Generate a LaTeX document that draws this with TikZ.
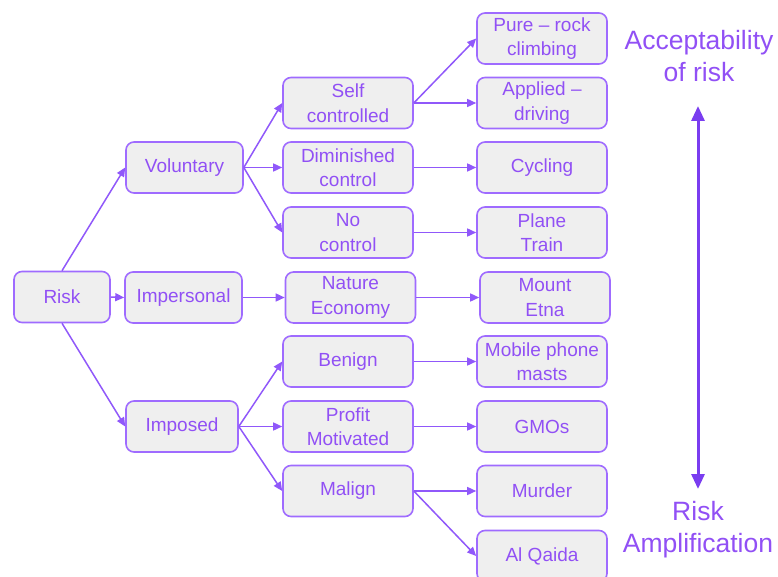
\documentclass[tikz,border=0pt]{standalone}
\usepackage{fontspec}
\setmainfont{Liberation Sans}
\usetikzlibrary{arrows.meta}
\definecolor{bordc}{HTML}{9F6BFF}
\definecolor{txtc}{HTML}{9150F5}
\definecolor{linec}{HTML}{9058FA}
\definecolor{boxfill}{HTML}{EFEFEF}
\definecolor{bigc}{HTML}{7A3DF0}
\begin{document}
\begin{tikzpicture}[x=1pt,y=-1pt,
  box/.style={draw=bordc,fill=boxfill,line width=1.6pt,rounded corners=8pt,
    minimum width=#1,minimum height=51pt,inner sep=0pt,align=center,
    text=txtc,font=\fontsize{19}{24.5}\selectfont},
  box/.default=130pt,
  conn/.style={draw=linec,line width=1.5pt,-{Triangle[length=9pt,width=8pt]}},
  lbl/.style={text=txtc,align=center,font=\fontsize{26.5}{32}\selectfont}]
\useasboundingbox (0,0) rectangle (778,577);
% column 1
\node[box=96pt] (risk) at (62,297) {Risk};
% column 2
\node[box=117pt] (vol) at (184.5,167.5) {Voluntary};
\node[box=117pt] (imp) at (183.5,297.5) {Impersonal};
\node[box=112pt] (ims) at (182,426.5) {Imposed};
% column 3
\node[box] (self) at (348,103) {Self\\controlled};
\node[box] (dim) at (348,167.5) {Diminished\\control};
\node[box] (noc) at (348,232.5) {No\\control};
\node[box] (nat) at (350.5,297.5) {Nature\\Economy};
\node[box] (ben) at (348,361.5) {Benign};
\node[box] (pro) at (348,426.5) {Profit\\Motivated};
\node[box] (mal) at (348,491) {Malign};
% column 4
\node[box] (pure) at (542,38.5) {Pure -- rock\\climbing};
\node[box] (app) at (542,103) {Applied --\\driving};
\node[box] (cyc) at (542,167.5) {Cycling};
\node[box] (pla) at (542,232.5) {Plane\\Train};
\node[box] (etn) at (545,297.5) {Mount\\Etna};
\node[box] (mob) at (542,361.5) {Mobile phone\\masts};
\node[box] (gmo) at (542,426.5) {GMOs};
\node[box] (mur) at (542,491) {Murder};
\node[box] (alq) at (542,556) {Al Qaida};
% connectors
\draw[conn] (risk.north) -- (vol.west);
\draw[conn] (risk.east) -- (imp.west);
\draw[conn] (risk.south) -- (ims.west);
\draw[conn] (vol.east) -- (self.west);
\draw[conn] (vol.east) -- (dim.west);
\draw[conn] (vol.east) -- (noc.west);
\draw[conn] (imp.east) -- (nat.west);
\draw[conn] (ims.east) -- (ben.west);
\draw[conn] (ims.east) -- (pro.west);
\draw[conn] (ims.east) -- (mal.west);
\draw[conn] (self.east) -- (pure.west);
\draw[conn] (self.east) -- (app.west);
\draw[conn] (dim.east) -- (cyc.west);
\draw[conn] (noc.east) -- (pla.west);
\draw[conn] (nat.east) -- (etn.west);
\draw[conn] (ben.east) -- (mob.west);
\draw[conn] (pro.east) -- (gmo.west);
\draw[conn] (mal.east) -- (mur.west);
\draw[conn] (mal.east) -- (alq.west);
% scale
\node[lbl] (acc) at (699,56) {Acceptability\\of risk};
\node[lbl] (amp) at (698,530) {Risk\\Amplification};
\coordinate (top) at (698,106);
\coordinate (bot) at (698,489);
\draw[bigc,line width=3pt,{Triangle[length=15pt,width=13pt]}-{Triangle[length=15pt,width=13pt]}] (top) -- (bot);
\end{tikzpicture}
\end{document}
